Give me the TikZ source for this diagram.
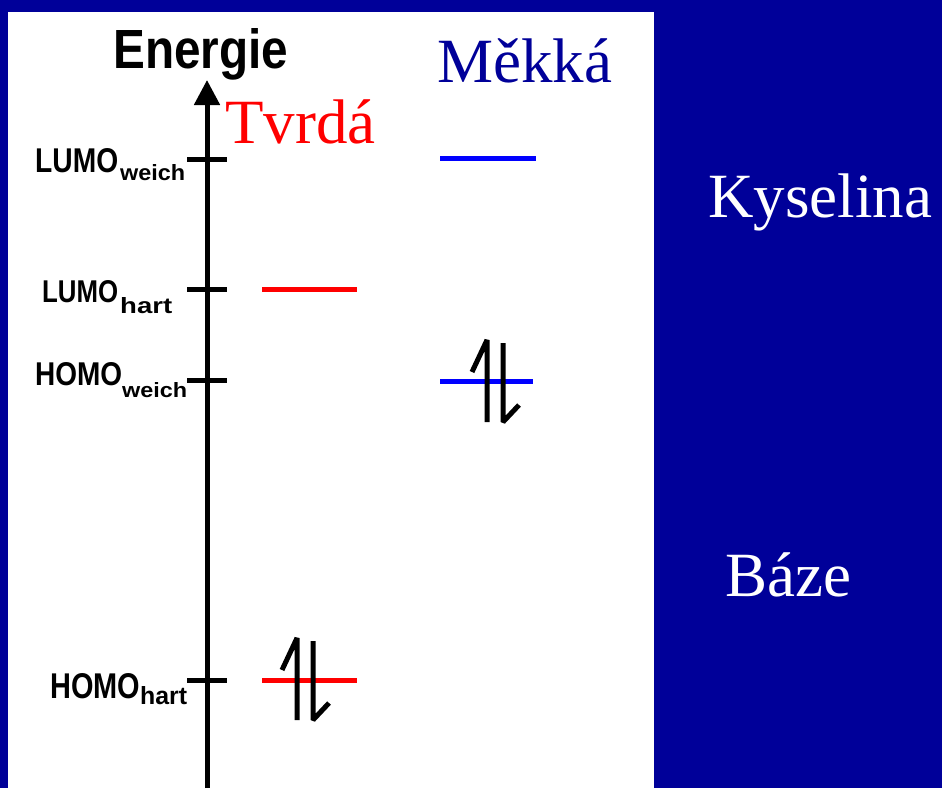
\documentclass[tikz,border=0pt]{standalone}
\usepackage{fontspec}
\usepackage{graphicx}
\setmainfont{Liberation Serif}
\newfontfamily\lblfont{Liberation Sans}
\usetikzlibrary{arrows.meta}
\definecolor{bgblue}{RGB}{0,0,153}
\definecolor{lvblue}{RGB}{0,0,255}
\definecolor{lvred}{RGB}{255,0,0}
\begin{document}
\begin{tikzpicture}[x=1pt,y=-1pt,
  lbl/.style={inner sep=0pt,anchor=base west,font=\lblfont\bfseries},
  big/.style={inner sep=0pt,anchor=base west,font=\fontsize{63}{70}\selectfont},
  tickline/.style={line width=5pt},
  levelline/.style={line width=5pt},
  axisline/.style={line width=5pt,-{Triangle[length=25pt,width=25pt]}},
  epair/.pic={
    \draw[line width=5pt,line join=bevel] (-8,41) -- (-8,-41) -- (-23,-9);
    \draw[line width=5pt,line join=bevel] (8,-38) -- (8,41) -- (24,24);
  }]
\useasboundingbox (0,0) rectangle (942,788);
\fill[bgblue] (0,0) rectangle (942,788);
\fill[white] (8,12) rectangle (654,788);

% axis
\coordinate (axb) at (207,788);
\coordinate (axt) at (207,80);
\draw[axisline] (axb) -- (axt);
\node[lbl] (en) at (113,68) {\resizebox{175pt}{40pt}{Energie}};

% ticks
\coordinate (t1a) at (187,159); \coordinate (t1b) at (227,159);
\coordinate (t2a) at (187,289); \coordinate (t2b) at (227,289);
\coordinate (t3a) at (187,380); \coordinate (t3b) at (227,380);
\coordinate (t4a) at (187,680); \coordinate (t4b) at (227,680);
\draw[tickline] (t1a) -- (t1b);
\draw[tickline] (t2a) -- (t2b);
\draw[tickline] (t3a) -- (t3b);
\draw[tickline] (t4a) -- (t4b);

% tick labels
\node[lbl] (lw) at (35,172) {\resizebox{83pt}{24pt}{LUMO}};
\node[lbl] (lws) at (120,180) {\resizebox{65pt}{16pt}{weich}};
\node[lbl] (lh) at (42,302) {\resizebox{76pt}{22pt}{LUMO}};
\node[lbl] (lhs) at (120,313) {\resizebox{52pt}{16pt}{hart}};
\node[lbl] (hw) at (35,385) {\resizebox{87pt}{23pt}{HOMO}};
\node[lbl] (hws) at (122,397) {\resizebox{65pt}{15pt}{weich}};
\node[lbl] (hh) at (50,698) {\resizebox{90pt}{25pt}{HOMO}};
\node[lbl] (hhs) at (140,704) {\resizebox{47pt}{18pt}{hart}};

% levels
\coordinate (lwa) at (440,158); \coordinate (lwb) at (536,158);
\coordinate (hwa) at (440,381); \coordinate (hwb) at (533,381);
\coordinate (lha) at (262,289); \coordinate (lhb) at (357,289);
\coordinate (hha) at (262,680); \coordinate (hhb) at (357,680);
\draw[levelline,lvblue] (lwa) -- (lwb);
\draw[levelline,lvblue] (hwa) -- (hwb);
\draw[levelline,lvred] (lha) -- (lhb);
\draw[levelline,lvred] (hha) -- (hhb);

% electron pairs
\pic at (495,381) {epair};
\pic at (305,679) {epair};

% titles
\node[big,text=lvred] (tv) at (225,143) {Tvrdá};
\node[big,text=bgblue] (me) at (437,82) {Měkká};
\node[big,text=white] (ky) at (708,217) {Kyselina};
\node[big,text=white] (ba) at (725,596) {Báze};
\end{tikzpicture}
\end{document}
